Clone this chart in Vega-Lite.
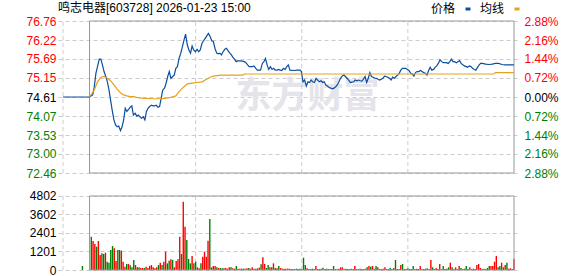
{
  "$schema": "https://vega.github.io/schema/vega-lite/v6.json",
  "width": 461,
  "height": 249,
  "autosize": {"type": "none"},
  "padding": {"left": 58, "top": 21, "right": 59, "bottom": 6},
  "background": "white",
  "title": {"text": "鸣志电器[603728] 2026-01-23 15:00", "anchor": "start", "frame": "group", "fontSize": 12, "fontWeight": "normal", "font": "Liberation Sans, Noto Sans CJK SC", "color": "#000000", "baseline": "bottom", "offset": -24},
  "config": {
    "view": {"stroke": null},
    "font": "Liberation Sans, Noto Sans CJK SC",
    "axis": {"labelFont": "Liberation Sans", "labelFontSize": 12, "labelOverlap": false, "labelFlush": false, "title": null, "domain": false, "ticks": false}
  },
  "datasets": {
    "vgrid": [{"t": 0}, {"t": 75}, {"t": 135}, {"t": 195}],
    "vol": [
      {"t": 11, "v": 260, "d": "g"},
      {"t": 16, "v": 2163, "d": "g"}, {"t": 17, "v": 1880, "d": "r"}, {"t": 18, "v": 1690, "d": "r"}, {"t": 19, "v": 1514, "d": "g"}, {"t": 20, "v": 1880, "d": "r"},
      {"t": 21, "v": 973, "d": "r"}, {"t": 22, "v": 1081, "d": "g"}, {"t": 23, "v": 1038, "d": "g"}, {"t": 24, "v": 1125, "d": "r"}, {"t": 25, "v": 540, "d": "g"},
      {"t": 26, "v": 476, "d": "g"}, {"t": 27, "v": 1298, "d": "g"}, {"t": 28, "v": 1557, "d": "g"}, {"t": 29, "v": 1406, "d": "r"}, {"t": 30, "v": 584, "d": "r"},
      {"t": 31, "v": 1298, "d": "g"}, {"t": 32, "v": 1298, "d": "g"}, {"t": 33, "v": 1255, "d": "r"}, {"t": 34, "v": 540, "d": "r"}, {"t": 35, "v": 216, "d": "r"},
      {"t": 36, "v": 390, "d": "g"}, {"t": 37, "v": 390, "d": "r"}, {"t": 38, "v": 303, "d": "g"}, {"t": 39, "v": 173, "d": "g"}, {"t": 40, "v": 649, "d": "g"},
      {"t": 41, "v": 325, "d": "r"}, {"t": 42, "v": 173, "d": "r"}, {"t": 43, "v": 173, "d": "g"}, {"t": 44, "v": 130, "d": "r"}, {"t": 45, "v": 130, "d": "r"},
      {"t": 46, "v": 130, "d": "g"}, {"t": 47, "v": 216, "d": "r"}, {"t": 48, "v": 130, "d": "r"}, {"t": 49, "v": 260, "d": "r"}, {"t": 50, "v": 325, "d": "r"},
      {"t": 51, "v": 173, "d": "r"}, {"t": 52, "v": 108, "d": "r"}, {"t": 53, "v": 173, "d": "r"}, {"t": 54, "v": 325, "d": "g"}, {"t": 55, "v": 476, "d": "r"},
      {"t": 56, "v": 325, "d": "g"}, {"t": 57, "v": 540, "d": "r"}, {"t": 58, "v": 1190, "d": "r"}, {"t": 59, "v": 433, "d": "g"}, {"t": 60, "v": 606, "d": "g"},
      {"t": 61, "v": 692, "d": "r"}, {"t": 62, "v": 649, "d": "g"}, {"t": 63, "v": 173, "d": "r"}, {"t": 64, "v": 584, "d": "r"}, {"t": 65, "v": 692, "d": "r"},
      {"t": 66, "v": 2163, "d": "r"}, {"t": 67, "v": 1038, "d": "g"}, {"t": 68, "v": 4434, "d": "r"}, {"t": 69, "v": 2812, "d": "r"}, {"t": 70, "v": 1947, "d": "g"},
      {"t": 71, "v": 714, "d": "g"}, {"t": 72, "v": 433, "d": "g"}, {"t": 73, "v": 908, "d": "r"}, {"t": 74, "v": 433, "d": "g"}, {"t": 75, "v": 540, "d": "g"},
      {"t": 76, "v": 173, "d": "r"}, {"t": 77, "v": 108, "d": "r"}, {"t": 78, "v": 433, "d": "g"}, {"t": 79, "v": 865, "d": "r"}, {"t": 80, "v": 1190, "d": "r"},
      {"t": 81, "v": 865, "d": "r"}, {"t": 82, "v": 1903, "d": "r"}, {"t": 83, "v": 3309, "d": "g"}, {"t": 84, "v": 173, "d": "g"}, {"t": 85, "v": 260, "d": "r"},
      {"t": 86, "v": 260, "d": "r"}, {"t": 87, "v": 173, "d": "g"}, {"t": 88, "v": 130, "d": "r"}, {"t": 89, "v": 130, "d": "g"}, {"t": 90, "v": 108, "d": "g"},
      {"t": 91, "v": 108, "d": "r"}, {"t": 92, "v": 130, "d": "r"}, {"t": 93, "v": 87, "d": "r"}, {"t": 94, "v": 173, "d": "r"}, {"t": 95, "v": 173, "d": "g"},
      {"t": 96, "v": 108, "d": "r"}, {"t": 97, "v": 87, "d": "r"}, {"t": 98, "v": 260, "d": "g"}, {"t": 99, "v": 87, "d": "r"}, {"t": 100, "v": 87, "d": "r"},
      {"t": 101, "v": 87, "d": "g"}, {"t": 102, "v": 87, "d": "r"}, {"t": 103, "v": 87, "d": "g"}, {"t": 104, "v": 108, "d": "r"}, {"t": 105, "v": 130, "d": "g"},
      {"t": 106, "v": 87, "d": "r"}, {"t": 107, "v": 173, "d": "r"}, {"t": 108, "v": 87, "d": "r"}, {"t": 109, "v": 87, "d": "g"}, {"t": 110, "v": 108, "d": "r"},
      {"t": 111, "v": 151, "d": "r"}, {"t": 112, "v": 368, "d": "g"}, {"t": 113, "v": 822, "d": "r"}, {"t": 114, "v": 390, "d": "r"}, {"t": 115, "v": 130, "d": "g"},
      {"t": 116, "v": 325, "d": "g"}, {"t": 117, "v": 173, "d": "r"}, {"t": 118, "v": 173, "d": "g"}, {"t": 119, "v": 433, "d": "r"}, {"t": 120, "v": 130, "d": "g"},
      {"t": 121, "v": 108, "d": "r"}, {"t": 122, "v": 260, "d": "g"}, {"t": 123, "v": 130, "d": "r"}, {"t": 124, "v": 87, "d": "r"}, {"t": 125, "v": 87, "d": "r"},
      {"t": 126, "v": 87, "d": "r"}, {"t": 127, "v": 87, "d": "r"}, {"t": 128, "v": 87, "d": "r"}, {"t": 129, "v": 65, "d": "r"}, {"t": 130, "v": 65, "d": "g"},
      {"t": 131, "v": 65, "d": "r"}, {"t": 132, "v": 87, "d": "g"}, {"t": 133, "v": 65, "d": "g"}, {"t": 134, "v": 87, "d": "g"}, {"t": 135, "v": 65, "d": "g"},
      {"t": 136, "v": 800, "d": "g"}, {"t": 137, "v": 325, "d": "g"}, {"t": 138, "v": 108, "d": "r"}, {"t": 139, "v": 65, "d": "r"}, {"t": 140, "v": 65, "d": "r"},
      {"t": 141, "v": 87, "d": "g"}, {"t": 142, "v": 65, "d": "r"}, {"t": 143, "v": 260, "d": "r"}, {"t": 144, "v": 65, "d": "r"}, {"t": 145, "v": 65, "d": "g"},
      {"t": 146, "v": 87, "d": "r"}, {"t": 147, "v": 150, "d": "g"}, {"t": 148, "v": 65, "d": "g"}, {"t": 149, "v": 87, "d": "g"}, {"t": 150, "v": 65, "d": "r"},
      {"t": 151, "v": 65, "d": "g"}, {"t": 152, "v": 65, "d": "g"}, {"t": 153, "v": 260, "d": "g"}, {"t": 154, "v": 65, "d": "r"}, {"t": 155, "v": 65, "d": "r"},
      {"t": 156, "v": 87, "d": "r"}, {"t": 157, "v": 173, "d": "r"}, {"t": 158, "v": 173, "d": "r"}, {"t": 159, "v": 65, "d": "g"}, {"t": 160, "v": 87, "d": "g"},
      {"t": 161, "v": 65, "d": "g"}, {"t": 162, "v": 65, "d": "g"}, {"t": 163, "v": 87, "d": "g"}, {"t": 164, "v": 65, "d": "r"}, {"t": 165, "v": 260, "d": "r"},
      {"t": 166, "v": 65, "d": "r"}, {"t": 167, "v": 65, "d": "r"}, {"t": 168, "v": 87, "d": "r"}, {"t": 169, "v": 65, "d": "g"}, {"t": 170, "v": 65, "d": "r"},
      {"t": 171, "v": 87, "d": "r"}, {"t": 172, "v": 173, "d": "g"}, {"t": 173, "v": 260, "d": "r"}, {"t": 174, "v": 216, "d": "g"}, {"t": 175, "v": 260, "d": "r"},
      {"t": 176, "v": 87, "d": "g"}, {"t": 177, "v": 260, "d": "g"}, {"t": 178, "v": 173, "d": "r"}, {"t": 179, "v": 65, "d": "r"}, {"t": 180, "v": 65, "d": "g"},
      {"t": 181, "v": 87, "d": "r"}, {"t": 182, "v": 173, "d": "r"}, {"t": 183, "v": 65, "d": "g"}, {"t": 184, "v": 65, "d": "r"}, {"t": 185, "v": 150, "d": "g"},
      {"t": 186, "v": 65, "d": "g"}, {"t": 187, "v": 130, "d": "r"}, {"t": 188, "v": 649, "d": "g"}, {"t": 189, "v": 65, "d": "r"}, {"t": 190, "v": 65, "d": "r"},
      {"t": 191, "v": 325, "d": "r"}, {"t": 192, "v": 390, "d": "g"}, {"t": 193, "v": 65, "d": "r"}, {"t": 194, "v": 65, "d": "r"}, {"t": 195, "v": 108, "d": "g"},
      {"t": 196, "v": 65, "d": "g"}, {"t": 197, "v": 65, "d": "r"}, {"t": 198, "v": 260, "d": "g"}, {"t": 199, "v": 65, "d": "r"}, {"t": 200, "v": 87, "d": "r"},
      {"t": 201, "v": 65, "d": "g"}, {"t": 202, "v": 260, "d": "r"}, {"t": 203, "v": 65, "d": "r"}, {"t": 204, "v": 65, "d": "g"}, {"t": 205, "v": 87, "d": "g"},
      {"t": 206, "v": 108, "d": "g"}, {"t": 207, "v": 65, "d": "r"}, {"t": 208, "v": 649, "d": "r"}, {"t": 209, "v": 173, "d": "g"}, {"t": 210, "v": 65, "d": "r"},
      {"t": 211, "v": 130, "d": "r"}, {"t": 212, "v": 65, "d": "g"}, {"t": 213, "v": 390, "d": "r"}, {"t": 214, "v": 65, "d": "g"}, {"t": 215, "v": 260, "d": "g"},
      {"t": 216, "v": 65, "d": "r"}, {"t": 217, "v": 87, "d": "g"}, {"t": 218, "v": 173, "d": "g"}, {"t": 219, "v": 476, "d": "r"}, {"t": 220, "v": 173, "d": "g"},
      {"t": 221, "v": 65, "d": "r"}, {"t": 222, "v": 173, "d": "r"}, {"t": 223, "v": 65, "d": "g"}, {"t": 224, "v": 260, "d": "r"}, {"t": 225, "v": 130, "d": "g"},
      {"t": 226, "v": 65, "d": "g"}, {"t": 227, "v": 87, "d": "g"}, {"t": 228, "v": 260, "d": "g"}, {"t": 229, "v": 65, "d": "r"}, {"t": 230, "v": 173, "d": "r"},
      {"t": 231, "v": 65, "d": "g"}, {"t": 232, "v": 87, "d": "r"}, {"t": 233, "v": 65, "d": "g"}, {"t": 234, "v": 325, "d": "r"}, {"t": 235, "v": 390, "d": "r"},
      {"t": 236, "v": 130, "d": "r"}, {"t": 237, "v": 65, "d": "g"}, {"t": 238, "v": 87, "d": "g"}, {"t": 239, "v": 65, "d": "r"}, {"t": 240, "v": 130, "d": "g"},
      {"t": 241, "v": 260, "d": "g"}, {"t": 242, "v": 260, "d": "r"}, {"t": 243, "v": 260, "d": "r"}, {"t": 244, "v": 540, "d": "r"}, {"t": 245, "v": 908, "d": "r"},
      {"t": 246, "v": 173, "d": "g"}, {"t": 247, "v": 260, "d": "g"}, {"t": 248, "v": 476, "d": "r"}, {"t": 249, "v": 173, "d": "g"}, {"t": 250, "v": 325, "d": "r"},
      {"t": 251, "v": 476, "d": "g"}, {"t": 252, "v": 87, "d": "r"}, {"t": 253, "v": 108, "d": "r"}, {"t": 254, "v": 65, "d": "g"}, {"t": 255, "v": 714, "d": "r"}
    ],
    "line": [
      {"t": 0, "p": 74.61, "s": "价格"}, {"t": 15, "p": 74.61, "s": "价格"}, {"t": 16.8, "p": 74.67, "s": "价格"}, {"t": 17.7, "p": 74.90, "s": "价格"},
      {"t": 18.6, "p": 75.28, "s": "价格"}, {"t": 19.5, "p": 75.47, "s": "价格"}, {"t": 20.5, "p": 75.68, "s": "价格"}, {"t": 21.4, "p": 75.68, "s": "价格"},
      {"t": 22.3, "p": 75.52, "s": "价格"}, {"t": 23.2, "p": 75.33, "s": "价格"}, {"t": 24.2, "p": 75.19, "s": "价格"}, {"t": 25.1, "p": 75.04, "s": "价格"},
      {"t": 26.0, "p": 74.81, "s": "价格"}, {"t": 26.9, "p": 74.52, "s": "价格"}, {"t": 27.8, "p": 74.24, "s": "价格"}, {"t": 28.8, "p": 73.96, "s": "价格"},
      {"t": 29.7, "p": 73.82, "s": "价格"}, {"t": 30.6, "p": 73.77, "s": "价格"}, {"t": 31.5, "p": 73.79, "s": "价格"}, {"t": 32.5, "p": 73.66, "s": "价格"},
      {"t": 33.4, "p": 73.77, "s": "价格"}, {"t": 34.3, "p": 73.96, "s": "价格"}, {"t": 35.2, "p": 74.29, "s": "价格"}, {"t": 36.1, "p": 74.20, "s": "价格"},
      {"t": 37.1, "p": 74.26, "s": "价格"}, {"t": 38.0, "p": 74.32, "s": "价格"}, {"t": 38.9, "p": 74.36, "s": "价格"}, {"t": 39.8, "p": 74.10, "s": "价格"},
      {"t": 40.8, "p": 74.15, "s": "价格"}, {"t": 41.7, "p": 74.07, "s": "价格"}, {"t": 42.6, "p": 74.10, "s": "价格"}, {"t": 43.5, "p": 74.05, "s": "价格"},
      {"t": 44.4, "p": 74.01, "s": "价格"}, {"t": 45.4, "p": 74.05, "s": "价格"}, {"t": 46.3, "p": 73.96, "s": "价格"}, {"t": 47.2, "p": 74.20, "s": "价格"},
      {"t": 48.1, "p": 74.29, "s": "价格"}, {"t": 49.0, "p": 74.34, "s": "价格"}, {"t": 50.0, "p": 74.38, "s": "价格"}, {"t": 50.9, "p": 74.36, "s": "价格"},
      {"t": 51.8, "p": 74.36, "s": "价格"}, {"t": 52.7, "p": 74.38, "s": "价格"}, {"t": 53.7, "p": 74.32, "s": "价格"}, {"t": 54.6, "p": 74.34, "s": "价格"},
      {"t": 55.5, "p": 74.57, "s": "价格"}, {"t": 56.4, "p": 74.81, "s": "价格"}, {"t": 57.4, "p": 74.86, "s": "价格"}, {"t": 58.3, "p": 75.00, "s": "价格"},
      {"t": 59.2, "p": 75.19, "s": "价格"}, {"t": 60.1, "p": 75.33, "s": "价格"}, {"t": 61.0, "p": 75.14, "s": "价格"}, {"t": 62.0, "p": 75.19, "s": "价格"},
      {"t": 62.9, "p": 75.23, "s": "价格"}, {"t": 63.8, "p": 75.42, "s": "价格"}, {"t": 64.7, "p": 75.47, "s": "价格"}, {"t": 65.6, "p": 75.70, "s": "价格"},
      {"t": 66.6, "p": 75.85, "s": "价格"}, {"t": 67.5, "p": 76.03, "s": "价格"}, {"t": 68.4, "p": 76.22, "s": "价格"}, {"t": 69.3, "p": 76.39, "s": "价格"},
      {"t": 70.3, "p": 76.08, "s": "价格"}, {"t": 71.2, "p": 75.94, "s": "价格"}, {"t": 72.1, "p": 75.85, "s": "价格"}, {"t": 73.0, "p": 76.05, "s": "价格"},
      {"t": 73.9, "p": 75.94, "s": "价格"}, {"t": 74.9, "p": 75.89, "s": "价格"}, {"t": 75.8, "p": 75.96, "s": "价格"}, {"t": 76.7, "p": 75.89, "s": "价格"},
      {"t": 77.6, "p": 75.94, "s": "价格"}, {"t": 78.6, "p": 76.13, "s": "价格"}, {"t": 79.5, "p": 76.20, "s": "价格"}, {"t": 80.4, "p": 76.27, "s": "价格"},
      {"t": 81.3, "p": 76.34, "s": "价格"}, {"t": 82.2, "p": 76.41, "s": "价格"}, {"t": 83.2, "p": 76.32, "s": "价格"}, {"t": 84.1, "p": 76.20, "s": "价格"},
      {"t": 85.0, "p": 76.18, "s": "价格"}, {"t": 85.9, "p": 75.99, "s": "价格"}, {"t": 86.9, "p": 75.85, "s": "价格"}, {"t": 87.8, "p": 75.83, "s": "价格"},
      {"t": 88.7, "p": 75.85, "s": "价格"}, {"t": 89.6, "p": 75.80, "s": "价格"}, {"t": 90.5, "p": 75.89, "s": "价格"}, {"t": 91.5, "p": 75.96, "s": "价格"},
      {"t": 92.4, "p": 75.99, "s": "价格"}, {"t": 93.3, "p": 75.92, "s": "价格"}, {"t": 94.2, "p": 75.86, "s": "价格"}, {"t": 95.2, "p": 75.80, "s": "价格"},
      {"t": 96.1, "p": 75.73, "s": "价格"}, {"t": 97.0, "p": 75.68, "s": "价格"}, {"t": 97.9, "p": 75.61, "s": "价格"}, {"t": 98.8, "p": 75.63, "s": "价格"},
      {"t": 100.7, "p": 75.63, "s": "价格"}, {"t": 102.5, "p": 75.61, "s": "价格"}, {"t": 103.4, "p": 75.58, "s": "价格"}, {"t": 104.4, "p": 75.52, "s": "价格"},
      {"t": 105.3, "p": 75.47, "s": "价格"}, {"t": 107.1, "p": 75.47, "s": "价格"}, {"t": 108.0, "p": 75.49, "s": "价格"}, {"t": 109.0, "p": 75.42, "s": "价格"},
      {"t": 109.9, "p": 75.37, "s": "价格"}, {"t": 111.7, "p": 75.37, "s": "价格"}, {"t": 112.7, "p": 75.56, "s": "价格"}, {"t": 113.6, "p": 75.61, "s": "价格"},
      {"t": 114.5, "p": 75.70, "s": "价格"}, {"t": 115.4, "p": 75.52, "s": "价格"}, {"t": 116.3, "p": 75.39, "s": "价格"}, {"t": 117.3, "p": 75.47, "s": "价格"},
      {"t": 118.2, "p": 75.39, "s": "价格"}, {"t": 119.1, "p": 75.42, "s": "价格"}, {"t": 120.0, "p": 75.37, "s": "价格"}, {"t": 121.0, "p": 75.37, "s": "价格"},
      {"t": 121.9, "p": 75.39, "s": "价格"}, {"t": 122.8, "p": 75.37, "s": "价格"}, {"t": 123.7, "p": 75.36, "s": "价格"}, {"t": 124.6, "p": 75.42, "s": "价格"},
      {"t": 125.6, "p": 75.39, "s": "价格"}, {"t": 126.5, "p": 75.47, "s": "价格"}, {"t": 127.4, "p": 75.52, "s": "价格"}, {"t": 128.3, "p": 75.37, "s": "价格"},
      {"t": 131.1, "p": 75.36, "s": "价格"}, {"t": 132.0, "p": 75.37, "s": "价格"}, {"t": 134.0, "p": 75.37, "s": "价格"}, {"t": 134.8, "p": 75.33, "s": "价格"},
      {"t": 135.7, "p": 75.04, "s": "价格"}, {"t": 136.6, "p": 75.09, "s": "价格"}, {"t": 137.6, "p": 74.92, "s": "价格"}, {"t": 138.5, "p": 75.04, "s": "价格"},
      {"t": 139.4, "p": 75.02, "s": "价格"}, {"t": 140.3, "p": 75.09, "s": "价格"}, {"t": 141.2, "p": 75.04, "s": "价格"}, {"t": 142.2, "p": 75.02, "s": "价格"},
      {"t": 143.1, "p": 75.14, "s": "价格"}, {"t": 144.0, "p": 75.09, "s": "价格"}, {"t": 144.9, "p": 75.04, "s": "价格"}, {"t": 145.9, "p": 75.07, "s": "价格"},
      {"t": 146.8, "p": 75.02, "s": "价格"}, {"t": 147.7, "p": 75.04, "s": "价格"}, {"t": 148.6, "p": 74.95, "s": "价格"}, {"t": 149.5, "p": 74.92, "s": "价格"},
      {"t": 150.5, "p": 74.88, "s": "价格"}, {"t": 151.4, "p": 74.86, "s": "价格"}, {"t": 152.3, "p": 74.84, "s": "价格"}, {"t": 153.2, "p": 74.86, "s": "价格"},
      {"t": 154.2, "p": 74.90, "s": "价格"}, {"t": 155.1, "p": 74.95, "s": "价格"}, {"t": 156.0, "p": 75.04, "s": "价格"}, {"t": 156.9, "p": 75.14, "s": "价格"},
      {"t": 157.8, "p": 75.20, "s": "价格"}, {"t": 158.8, "p": 75.23, "s": "价格"}, {"t": 159.7, "p": 75.19, "s": "价格"}, {"t": 160.6, "p": 75.14, "s": "价格"},
      {"t": 161.5, "p": 75.09, "s": "价格"}, {"t": 162.5, "p": 75.02, "s": "价格"}, {"t": 163.4, "p": 75.03, "s": "价格"}, {"t": 164.3, "p": 75.04, "s": "价格"},
      {"t": 165.2, "p": 75.09, "s": "价格"}, {"t": 166.1, "p": 75.07, "s": "价格"}, {"t": 167.1, "p": 75.09, "s": "价格"}, {"t": 168.0, "p": 75.07, "s": "价格"},
      {"t": 168.9, "p": 75.06, "s": "价格"}, {"t": 169.8, "p": 75.11, "s": "价格"}, {"t": 170.8, "p": 75.19, "s": "价格"}, {"t": 171.7, "p": 75.02, "s": "价格"},
      {"t": 172.6, "p": 75.14, "s": "价格"}, {"t": 173.5, "p": 75.30, "s": "价格"}, {"t": 174.4, "p": 75.19, "s": "价格"}, {"t": 175.4, "p": 75.17, "s": "价格"},
      {"t": 176.3, "p": 75.14, "s": "价格"}, {"t": 177.2, "p": 75.14, "s": "价格"}, {"t": 178.1, "p": 75.11, "s": "价格"}, {"t": 179.0, "p": 75.09, "s": "价格"},
      {"t": 180.0, "p": 75.11, "s": "价格"}, {"t": 180.9, "p": 75.14, "s": "价格"}, {"t": 181.8, "p": 75.20, "s": "价格"}, {"t": 182.7, "p": 75.19, "s": "价格"},
      {"t": 183.6, "p": 75.17, "s": "价格"}, {"t": 184.6, "p": 75.14, "s": "价格"}, {"t": 185.5, "p": 75.09, "s": "价格"}, {"t": 186.4, "p": 75.17, "s": "价格"},
      {"t": 187.3, "p": 75.14, "s": "价格"}, {"t": 188.3, "p": 75.19, "s": "价格"}, {"t": 189.2, "p": 75.23, "s": "价格"}, {"t": 190.1, "p": 75.28, "s": "价格"},
      {"t": 191.0, "p": 75.37, "s": "价格"}, {"t": 191.9, "p": 75.42, "s": "价格"}, {"t": 193.8, "p": 75.42, "s": "价格"}, {"t": 194.7, "p": 75.39, "s": "价格"},
      {"t": 195.6, "p": 75.36, "s": "价格"}, {"t": 196.6, "p": 75.28, "s": "价格"}, {"t": 197.5, "p": 75.26, "s": "价格"}, {"t": 198.4, "p": 75.20, "s": "价格"},
      {"t": 199.3, "p": 75.30, "s": "价格"}, {"t": 200.2, "p": 75.33, "s": "价格"}, {"t": 201.2, "p": 75.33, "s": "价格"}, {"t": 202.1, "p": 75.36, "s": "价格"},
      {"t": 203.0, "p": 75.33, "s": "价格"}, {"t": 203.9, "p": 75.30, "s": "价格"}, {"t": 204.9, "p": 75.28, "s": "价格"}, {"t": 205.8, "p": 75.23, "s": "价格"},
      {"t": 206.7, "p": 75.36, "s": "价格"}, {"t": 207.6, "p": 75.45, "s": "价格"}, {"t": 208.5, "p": 75.37, "s": "价格"}, {"t": 209.5, "p": 75.39, "s": "价格"},
      {"t": 210.4, "p": 75.45, "s": "价格"}, {"t": 211.3, "p": 75.49, "s": "价格"}, {"t": 212.2, "p": 75.56, "s": "价格"}, {"t": 213.2, "p": 75.66, "s": "价格"},
      {"t": 214.1, "p": 75.61, "s": "价格"}, {"t": 215.0, "p": 75.58, "s": "价格"}, {"t": 216.8, "p": 75.58, "s": "价格"}, {"t": 217.8, "p": 75.56, "s": "价格"},
      {"t": 218.7, "p": 75.61, "s": "价格"}, {"t": 219.6, "p": 75.68, "s": "价格"}, {"t": 220.5, "p": 75.61, "s": "价格"}, {"t": 221.4, "p": 75.61, "s": "价格"},
      {"t": 222.4, "p": 75.58, "s": "价格"}, {"t": 223.3, "p": 75.61, "s": "价格"}, {"t": 224.2, "p": 75.64, "s": "价格"}, {"t": 225.1, "p": 75.56, "s": "价格"},
      {"t": 226.1, "p": 75.52, "s": "价格"}, {"t": 227.0, "p": 75.49, "s": "价格"}, {"t": 227.9, "p": 75.47, "s": "价格"}, {"t": 228.8, "p": 75.45, "s": "价格"},
      {"t": 229.7, "p": 75.49, "s": "价格"}, {"t": 230.7, "p": 75.47, "s": "价格"}, {"t": 231.6, "p": 75.42, "s": "价格"}, {"t": 232.5, "p": 75.39, "s": "价格"},
      {"t": 233.4, "p": 75.37, "s": "价格"}, {"t": 234.4, "p": 75.45, "s": "价格"}, {"t": 235.3, "p": 75.52, "s": "价格"}, {"t": 236.2, "p": 75.56, "s": "价格"},
      {"t": 237.1, "p": 75.56, "s": "价格"}, {"t": 239.0, "p": 75.54, "s": "价格"}, {"t": 240.8, "p": 75.53, "s": "价格"}, {"t": 242.7, "p": 75.54, "s": "价格"},
      {"t": 244.5, "p": 75.56, "s": "价格"}, {"t": 246.3, "p": 75.56, "s": "价格"}, {"t": 248.2, "p": 75.53, "s": "价格"}, {"t": 250.0, "p": 75.52, "s": "价格"},
      {"t": 251.9, "p": 75.52, "s": "价格"}, {"t": 255.0, "p": 75.52, "s": "价格"},
      {"t": 15, "p": 74.61, "s": "均线"}, {"t": 17.7, "p": 74.81, "s": "均线"}, {"t": 19.5, "p": 75.04, "s": "均线"}, {"t": 21.4, "p": 75.17, "s": "均线"},
      {"t": 23.2, "p": 75.19, "s": "均线"}, {"t": 25.1, "p": 75.14, "s": "均线"}, {"t": 26.9, "p": 75.07, "s": "均线"}, {"t": 28.8, "p": 74.95, "s": "均线"},
      {"t": 30.6, "p": 74.83, "s": "均线"}, {"t": 32.5, "p": 74.73, "s": "均线"}, {"t": 34.3, "p": 74.67, "s": "均线"}, {"t": 36.1, "p": 74.64, "s": "均线"},
      {"t": 38.0, "p": 74.62, "s": "均线"}, {"t": 39.8, "p": 74.62, "s": "均线"}, {"t": 41.7, "p": 74.60, "s": "均线"}, {"t": 44.4, "p": 74.58, "s": "均线"},
      {"t": 47.2, "p": 74.57, "s": "均线"}, {"t": 50.9, "p": 74.56, "s": "均线"}, {"t": 54.6, "p": 74.56, "s": "均线"}, {"t": 57.4, "p": 74.57, "s": "均线"},
      {"t": 60.1, "p": 74.59, "s": "均线"}, {"t": 63.8, "p": 74.64, "s": "均线"}, {"t": 65.6, "p": 74.76, "s": "均线"}, {"t": 67.5, "p": 74.86, "s": "均线"},
      {"t": 70.3, "p": 74.98, "s": "均线"}, {"t": 73.0, "p": 75.00, "s": "均线"}, {"t": 75.8, "p": 75.02, "s": "均线"}, {"t": 78.6, "p": 75.04, "s": "均线"},
      {"t": 80.4, "p": 75.09, "s": "均线"}, {"t": 82.2, "p": 75.14, "s": "均线"}, {"t": 84.1, "p": 75.19, "s": "均线"}, {"t": 85.9, "p": 75.21, "s": "均线"},
      {"t": 89.6, "p": 75.23, "s": "均线"}, {"t": 101.6, "p": 75.23, "s": "均线"}, {"t": 102.5, "p": 75.26, "s": "均线"}, {"t": 243.6, "p": 75.26, "s": "均线"},
      {"t": 244.5, "p": 75.30, "s": "均线"}, {"t": 255, "p": 75.30, "s": "均线"}
    ]
  },
  "resolve": {"scale": {"y": "independent"}, "axis": {"y": "independent"}},
  "layer": [
    {
      "data": {"values": [{"w": "东方财富"}]},
      "mark": {"type": "text", "font": "Noto Sans CJK SC", "fontSize": 36, "fontWeight": "bold", "color": "#e4e4ea", "align": "center", "baseline": "middle"},
      "encoding": {
        "text": {"field": "w"},
        "x": {"datum": 138.3, "type": "quantitative", "scale": {"domain": [0, 255], "nice": false, "zero": false}, "axis": null},
        "y": {"datum": 74.62, "type": "quantitative", "scale": {"domain": [69.716, 76.76], "nice": false, "zero": false}, "axis": null}
      }
    },
    {
      "data": {"name": "vgrid"},
      "mark": {"type": "rule", "color": "#cccccc", "strokeDash": [4, 3], "strokeWidth": 1},
      "encoding": {
        "x": {"field": "t", "type": "quantitative", "scale": {"domain": [0, 255], "nice": false, "zero": false}, "axis": null},
        "y": {"datum": 72.46, "type": "quantitative", "scale": {"domain": [69.716, 76.76], "nice": false, "zero": false}, "axis": null},
        "y2": {"datum": 76.76}
      }
    },
    {
      "data": {"name": "vgrid"},
      "mark": {"type": "rule", "color": "#cccccc", "strokeDash": [4, 3], "strokeWidth": 1},
      "encoding": {
        "x": {"field": "t", "type": "quantitative", "scale": {"domain": [0, 255], "nice": false, "zero": false}, "axis": null},
        "y": {"datum": 0, "type": "quantitative", "scale": {"domain": [0, 16158], "nice": false, "zero": false}, "axis": null},
        "y2": {"datum": 4802}
      }
    },
    {
      "data": {"name": "vol"},
      "mark": {"type": "bar", "size": 1.4},
      "encoding": {
        "x": {"field": "t", "type": "quantitative", "scale": {"domain": [0, 255], "nice": false, "zero": false}, "axis": null},
        "y": {"field": "v", "type": "quantitative", "scale": {"domain": [0, 16158], "nice": false, "zero": false},
          "axis": {"orient": "left", "values": [0, 1200.5, 2401, 3601.5, 4802], "labelExpr": "'' + round(datum.value)", "grid": true, "gridDash": [4, 3], "gridColor": "#cccccc", "labelPadding": 2, "labelColor": "#000000"}},
        "color": {"condition": {"test": "datum.d == 'r'", "value": "#ff0000"}, "value": "#008000"}
      }
    },
    {
      "data": {"values": [{}]},
      "mark": {"type": "rect", "fillOpacity": 0, "stroke": "#999999", "strokeWidth": 1},
      "encoding": {
        "x": {"datum": 15, "type": "quantitative", "scale": {"domain": [0, 255], "nice": false, "zero": false}, "axis": null},
        "x2": {"datum": 255},
        "y": {"datum": 0, "type": "quantitative", "scale": {"domain": [0, 16158], "nice": false, "zero": false}, "axis": null},
        "y2": {"datum": 4802}
      }
    },
    {
      "data": {"values": [{}]},
      "mark": {"type": "rect", "fillOpacity": 0, "stroke": "#999999", "strokeWidth": 1},
      "encoding": {
        "x": {"datum": 15, "type": "quantitative", "scale": {"domain": [0, 255], "nice": false, "zero": false}, "axis": null},
        "x2": {"datum": 255},
        "y": {"datum": 72.46, "type": "quantitative", "scale": {"domain": [69.716, 76.76], "nice": false, "zero": false},
          "axis": {"orient": "right", "values": [72.46, 73.00, 73.53, 74.07, 74.61, 75.15, 75.69, 76.22, 76.76], "labelExpr": "format(abs(round((datum.value - 74.61) / 0.5375)) * 0.72, '.2f') + '%'", "grid": false, "labelPadding": 5,
            "labelColor": {"condition": [{"test": "datum.value > 74.62", "value": "#ff0000"}, {"test": "datum.value < 74.6", "value": "#008000"}], "value": "#000000"}}},
        "y2": {"datum": 76.76}
      }
    },
    {
      "data": {"name": "line"},
      "mark": {"type": "line", "strokeWidth": 1.2, "interpolate": "linear"},
      "encoding": {
        "x": {"field": "t", "type": "quantitative", "scale": {"domain": [0, 255], "nice": false, "zero": false},
          "axis": {"orient": "bottom", "offset": -97, "values": [0, 15, 75, 135, 195, 255], "labelPadding": 3, "grid": false, "labelColor": "#000000",
            "labelExpr": "datum.value == 0 ? '9:15' : datum.value == 15 ? '09:30' : datum.value == 75 ? '10:30' : datum.value == 135 ? '11:30/13:00' : datum.value == 195 ? '14:00' : '15:00'",
            "labelAlign": {"condition": [{"test": "datum.value <= 15", "value": "left"}, {"test": "datum.value >= 255", "value": "right"}], "value": "center"}}},
        "y": {"field": "p", "type": "quantitative", "scale": {"domain": [69.716, 76.76], "nice": false, "zero": false},
          "axis": {"orient": "left", "values": [72.46, 73.00, 73.53, 74.07, 74.61, 75.15, 75.69, 76.22, 76.76], "format": ".2f", "grid": true, "gridDash": [4, 3], "gridColor": "#cccccc", "labelPadding": 2,
            "labelColor": {"condition": [{"test": "datum.value > 74.62", "value": "#ff0000"}, {"test": "datum.value < 74.6", "value": "#008000"}], "value": "#000000"}}},
        "color": {"field": "s", "type": "nominal", "scale": {"domain": ["价格", "均线"], "range": ["#0b4ea2", "#e5a11c"]},
          "legend": {"orient": "none", "legendX": 404, "legendY": -18, "direction": "horizontal", "title": null, "symbolType": "stroke", "symbolSize": 25, "symbolStrokeWidth": 3, "labelFont": "Noto Sans CJK SC", "labelFontSize": 12, "labelColor": "#000000", "labelAlign": "right", "labelOffset": -19, "columnPadding": 2, "padding": 0}}
      }
    }
  ]
}
